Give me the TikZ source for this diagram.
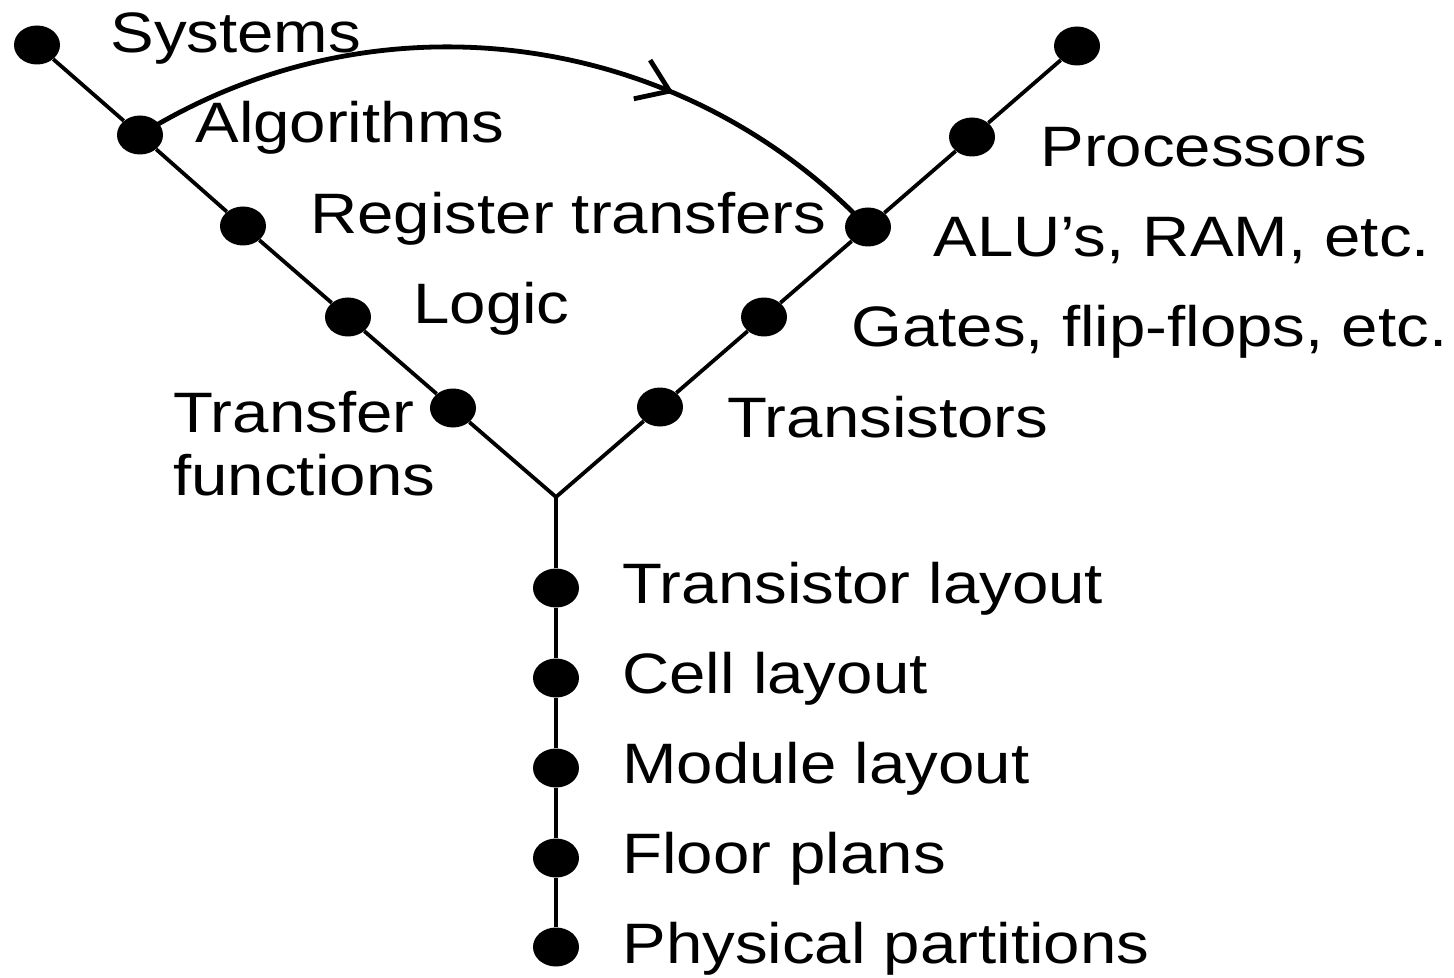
\documentclass[tikz,border=0pt]{standalone}
\usepackage{fontspec}
\setmainfont[FakeStretch=1.147]{Liberation Sans}
\usetikzlibrary{shapes.geometric,arrows.meta,decorations.markings}
\begin{document}
\begin{tikzpicture}[x=0.5pt,y=-0.5pt,
  dot/.style={ellipse,fill=black,draw=none,minimum width=23pt,minimum height=19.5pt,inner sep=0pt},
  lbl/.style={anchor=base west,inner sep=0pt,font=\fontsize{28.5}{34}\selectfont},
  branch/.style={line width=1.9pt},
  flow/.style={line width=2.4pt,postaction={decorate},
    decoration={markings,mark=at position 0.70 with {\arrow[line width=2.4pt]{Straight Barb[length=15pt,width=21pt]}}}}]
\useasboundingbox (0,0) rectangle (1454,978);
% left branch (behavioral)
\node[dot] (sys) at (37,45) {};
\node[dot] (alg) at (140,135) {};
\node[dot] (reg) at (243,226) {};
\node[dot] (logic) at (348,317) {};
\node[dot] (tf) at (453,408) {};
% right branch (structural)
\node[dot] (top) at (1077,46) {};
\node[dot] (proc) at (972,137) {};
\node[dot] (alu) at (868,227) {};
\node[dot] (gates) at (764,317) {};
\node[dot] (trans) at (660,407) {};
% junction
\coordinate (j) at (556,497);
% vertical branch (physical)
\node[dot] (tl) at (556,588) {};
\node[dot] (cl) at (556,678) {};
\node[dot] (ml) at (556,768) {};
\node[dot] (fp) at (556,858) {};
\node[dot] (pp) at (556,947) {};
% lines
\draw[branch] (sys) -- (alg) -- (reg) -- (logic) -- (tf) -- (j);
\draw[branch] (top) -- (proc) -- (alu) -- (gates) -- (trans) -- (j);
\draw[branch] (j) -- (tl) -- (cl) -- (ml) -- (fp) -- (pp);
% arc with arrow
\draw[flow] (alg.center) arc[start angle=-122, end angle=-43.5, radius=579.9];
% labels
\node[lbl] (lsys) at (110,53) {Systems};
\node[lbl] (lalg) at (195,143) {Algorithms};
\node[lbl] (lreg) at (310,234) {Register transfers};
\node[lbl] (llog) at (413,323) {Logic};
\node[lbl] (ltf1) at (173,432) {Transfer};
\node[lbl] (ltf2) at (173,495) {functions};
\node[lbl] (lproc) at (1040,167) {Processors};
\node[lbl] (lalu) at (933,257) {ALU’s, RAM, etc.};
\node[lbl] (lgat) at (851,346) {Gates, flip-flops, etc.};
\node[lbl] (ltr) at (727,437) {Transistors};
\node[lbl] (ltl) at (622,603) {Transistor layout};
\node[lbl] (lcl) at (622,693) {Cell layout};
\node[lbl] (lml) at (622,783) {Module layout};
\node[lbl] (lfp) at (622,873) {Floor plans};
\node[lbl] (lpp) at (622,963) {Physical partitions};
\end{tikzpicture}
\end{document}
